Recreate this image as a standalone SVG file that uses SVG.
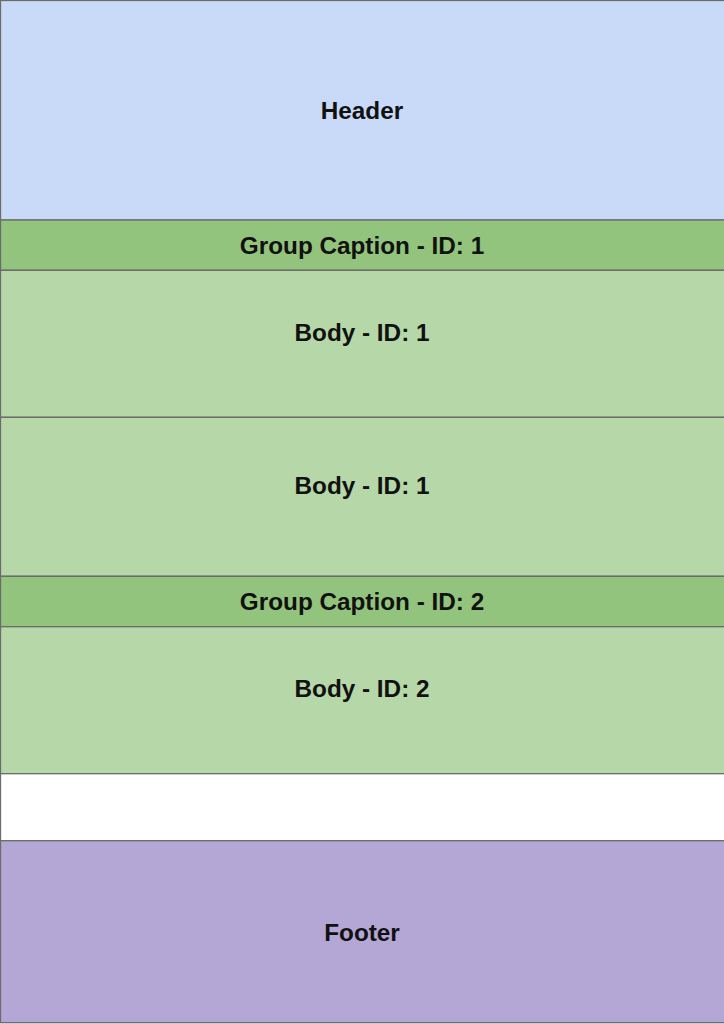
<svg xmlns="http://www.w3.org/2000/svg" width="724" height="1024" viewBox="0 0 724 1024">
<style>
rect.b{stroke:#6b6b6b;stroke-width:1.3}
text{font-family:"Liberation Sans",Arial,sans-serif;font-weight:bold;font-size:24.3px;fill:#111;text-anchor:middle;dominant-baseline:central}
</style>
<rect x="0" y="0" width="724" height="1024" fill="#ffffff"/>
<g id="header"><rect class="b" x="0.5" y="0.5" width="725" height="219.5" fill="#c9daf8"/><text x="362" y="110">Header</text></g>
<g id="caption1"><rect class="b" x="0.5" y="220" width="725" height="50.3" fill="#93c47d"/><text x="362" y="245.5">Group Caption - ID: 1</text></g>
<g id="body1a"><rect class="b" x="0.5" y="270.3" width="725" height="147" fill="#b6d7a8"/><text x="362" y="332.5">Body - ID: 1</text></g>
<g id="body1b"><rect class="b" x="0.5" y="417.3" width="725" height="159" fill="#b6d7a8"/><text x="362" y="485.5">Body - ID: 1</text></g>
<g id="caption2"><rect class="b" x="0.5" y="576.3" width="725" height="50.4" fill="#93c47d"/><text x="362" y="601.5">Group Caption - ID: 2</text></g>
<g id="body2"><rect class="b" x="0.5" y="626.7" width="725" height="147" fill="#b6d7a8"/><text x="362" y="688.5">Body - ID: 2</text></g>
<g id="spacer"><rect class="b" x="0.5" y="773.7" width="725" height="67" fill="#ffffff"/></g>
<g id="footer"><rect class="b" x="0.5" y="840.7" width="725" height="182" fill="#b4a7d6"/><text x="362" y="932.5">Footer</text></g>
<g id="connectors"></g>
</svg>
